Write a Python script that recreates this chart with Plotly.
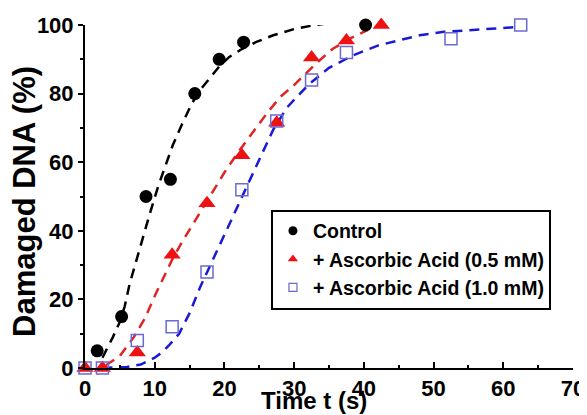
import plotly.graph_objects as go

# ---- data ----
control_t = [1.75, 5.25, 8.75, 12.25, 15.75, 19.25, 22.75, 40.25]
control_y = [5, 15, 50, 55, 80, 90, 95, 100]

asc05_t = [0, 2.5, 7.5, 12.5, 17.5, 22.5, 27.5, 32.5, 37.5, 42.5]
asc05_y = [0, 0, 4.5, 33, 48, 62, 71.5, 90.5, 95.5, 100]

asc10_t = [0, 2.5, 7.5, 12.5, 17.5, 22.5, 27.5, 32.5, 37.5, 52.5, 62.5]
asc10_y = [0, 0, 8, 12, 28, 52, 72, 84, 92, 96, 100]

# fitted curves (dashed)
fit_control_t = [2.5, 4, 5, 5.7, 6.4, 7.4, 8.3, 9.3, 10.5, 11.5, 12.6, 13.9, 15.3, 16.5,
                 17.9, 19.3, 20.7, 22.5, 24.5, 27, 30, 33, 36, 40]
fit_control_y = [3, 9, 13.5, 18, 24.5, 31.5, 38.5, 45, 53, 59, 65, 71, 77, 81,
                 84.5, 88, 90.7, 93, 95, 97, 98.8, 100, 100.8, 101.3]

fit_05_t = [3, 5, 7, 8.6, 10, 11.5, 12.6, 14, 15.5, 17, 18.5, 20, 22, 24, 26, 28, 30,
            33, 35.5, 38, 40.5]
fit_05_y = [0.8, 3.5, 9, 14.5, 21, 27.5, 32, 37, 42, 47, 52, 57, 63, 68.5, 74, 79, 82.5,
            88.5, 93, 96, 98.5]

fit_10_t = [2.5, 6, 8, 10, 11, 12, 13.5, 15, 16.5, 18, 19.5, 21, 22.5, 24, 25.5, 27, 29,
            32, 35, 38.5, 42, 45.5, 48, 51.5, 55, 58, 62]
fit_10_y = [0, 0.3, 1, 3, 4.5, 6.5, 10, 16, 23.5, 30, 37, 43.5, 50, 56, 63, 69.5, 76,
            82.5, 87.5, 91.2, 94, 95.8, 97, 98, 98.5, 99, 99.4]

x_ticks = [0, 10, 20, 30, 40, 50, 60, 70]
y_ticks = [0, 20, 40, 60, 80, 100]

names = ["Control", "+ Ascorbic Acid (0.5 mM)", "+ Ascorbic Acid (1.0 mM)"]

FONT = "Liberation Sans, Arial, sans-serif"
BLACK = "#000000"
RED = "#ee1111"
RED_LINE = "#e02424"
BLUE_LINE = "#1a1ad6"
BLUE_MK = "#6a6ad0"

fig = go.Figure()

dash = "10px,7px"
for t, y, c in [(fit_control_t, fit_control_y, BLACK),
                (fit_05_t, fit_05_y, RED_LINE),
                (fit_10_t, fit_10_y, BLUE_LINE)]:
    fig.add_trace(go.Scatter(x=t, y=y, mode="lines", showlegend=False, hoverinfo="skip",
                             line=dict(color=c, width=2.5, dash=dash), cliponaxis=False))

fig.add_trace(go.Scatter(x=control_t, y=control_y, mode="markers", showlegend=False,
                         marker=dict(symbol="circle", size=13, color=BLACK), cliponaxis=False))
fig.add_trace(go.Scatter(x=asc05_t, y=asc05_y, mode="markers", showlegend=False,
                         marker=dict(symbol="triangle-up", size=15, color=RED), cliponaxis=False))
fig.add_trace(go.Scatter(x=asc10_t, y=asc10_y, mode="markers", showlegend=False,
                         marker=dict(symbol="square-open", size=12, color=BLUE_MK,
                                     line=dict(width=1.5, color=BLUE_MK)), cliponaxis=False))

# legend-only entries with smaller symbols
fig.add_trace(go.Scatter(x=[None], y=[None], mode="markers", name=names[0],
                         marker=dict(symbol="circle", size=9, color=BLACK)))
fig.add_trace(go.Scatter(x=[None], y=[None], mode="markers", name=names[1],
                         marker=dict(symbol="triangle-up", size=9, color=RED)))
fig.add_trace(go.Scatter(x=[None], y=[None], mode="markers", name=names[2],
                         marker=dict(symbol="square-open", size=8, color=BLUE_MK,
                                     line=dict(width=1.2, color=BLUE_MK))))

axis_font = dict(family=FONT, size=22, color=BLACK, weight="bold")

# the page body adds an 8px offset; margins compensate for it
fig.update_layout(
    width=587, height=415,
    margin=dict(l=77, r=22, t=17, b=55, autoexpand=False),
    paper_bgcolor="white", plot_bgcolor="white",
    font=dict(family=FONT, color=BLACK),
    showlegend=True,
    legend=dict(x=0.381, y=0.462, xanchor="left", yanchor="top",
                bgcolor="white", bordercolor=BLACK, borderwidth=2,
                font=dict(family=FONT, size=19.5, color=BLACK, weight="bold"),
                tracegroupgap=0, itemsizing="trace"),
    xaxis=dict(range=[0, 70], tickvals=x_ticks, ticktext=[str(v) for v in x_ticks],
               automargin=False,
               showgrid=False, zeroline=False, showline=True, linecolor=BLACK, linewidth=2,
               ticks="inside", ticklen=6, tickwidth=1.5, tickcolor=BLACK,
               minor=dict(dtick=5, tick0=0, ticks="inside", ticklen=3, tickwidth=1.5,
                          tickcolor=BLACK, showgrid=False),
               tickfont=axis_font, fixedrange=True),
    yaxis=dict(range=[0, 100], tickvals=y_ticks, ticktext=[str(v) for v in y_ticks],
               automargin=False,
               showgrid=False, zeroline=False, showline=True, linecolor=BLACK, linewidth=2,
               ticks="outside", ticklen=5, tickwidth=1.5, tickcolor=BLACK,
               minor=dict(dtick=10, tick0=0, ticks="outside", ticklen=3, tickwidth=1.5,
                          tickcolor=BLACK, showgrid=False),
               tickfont=axis_font, fixedrange=True),
    annotations=[
        dict(text="Damaged DNA (%)", xref="paper", yref="paper", x=-0.123, y=0.487,
             xanchor="center", yanchor="middle", textangle=-90, showarrow=False,
             font=dict(family=FONT, size=31, color=BLACK, weight="bold")),
        dict(text="Time t (s)", xref="paper", yref="paper", x=0.469, y=-0.095,
             xanchor="center", yanchor="middle", showarrow=False,
             font=dict(family=FONT, size=24, color=BLACK, weight="bold")),
    ],
)

fig.write_html("out.html")
